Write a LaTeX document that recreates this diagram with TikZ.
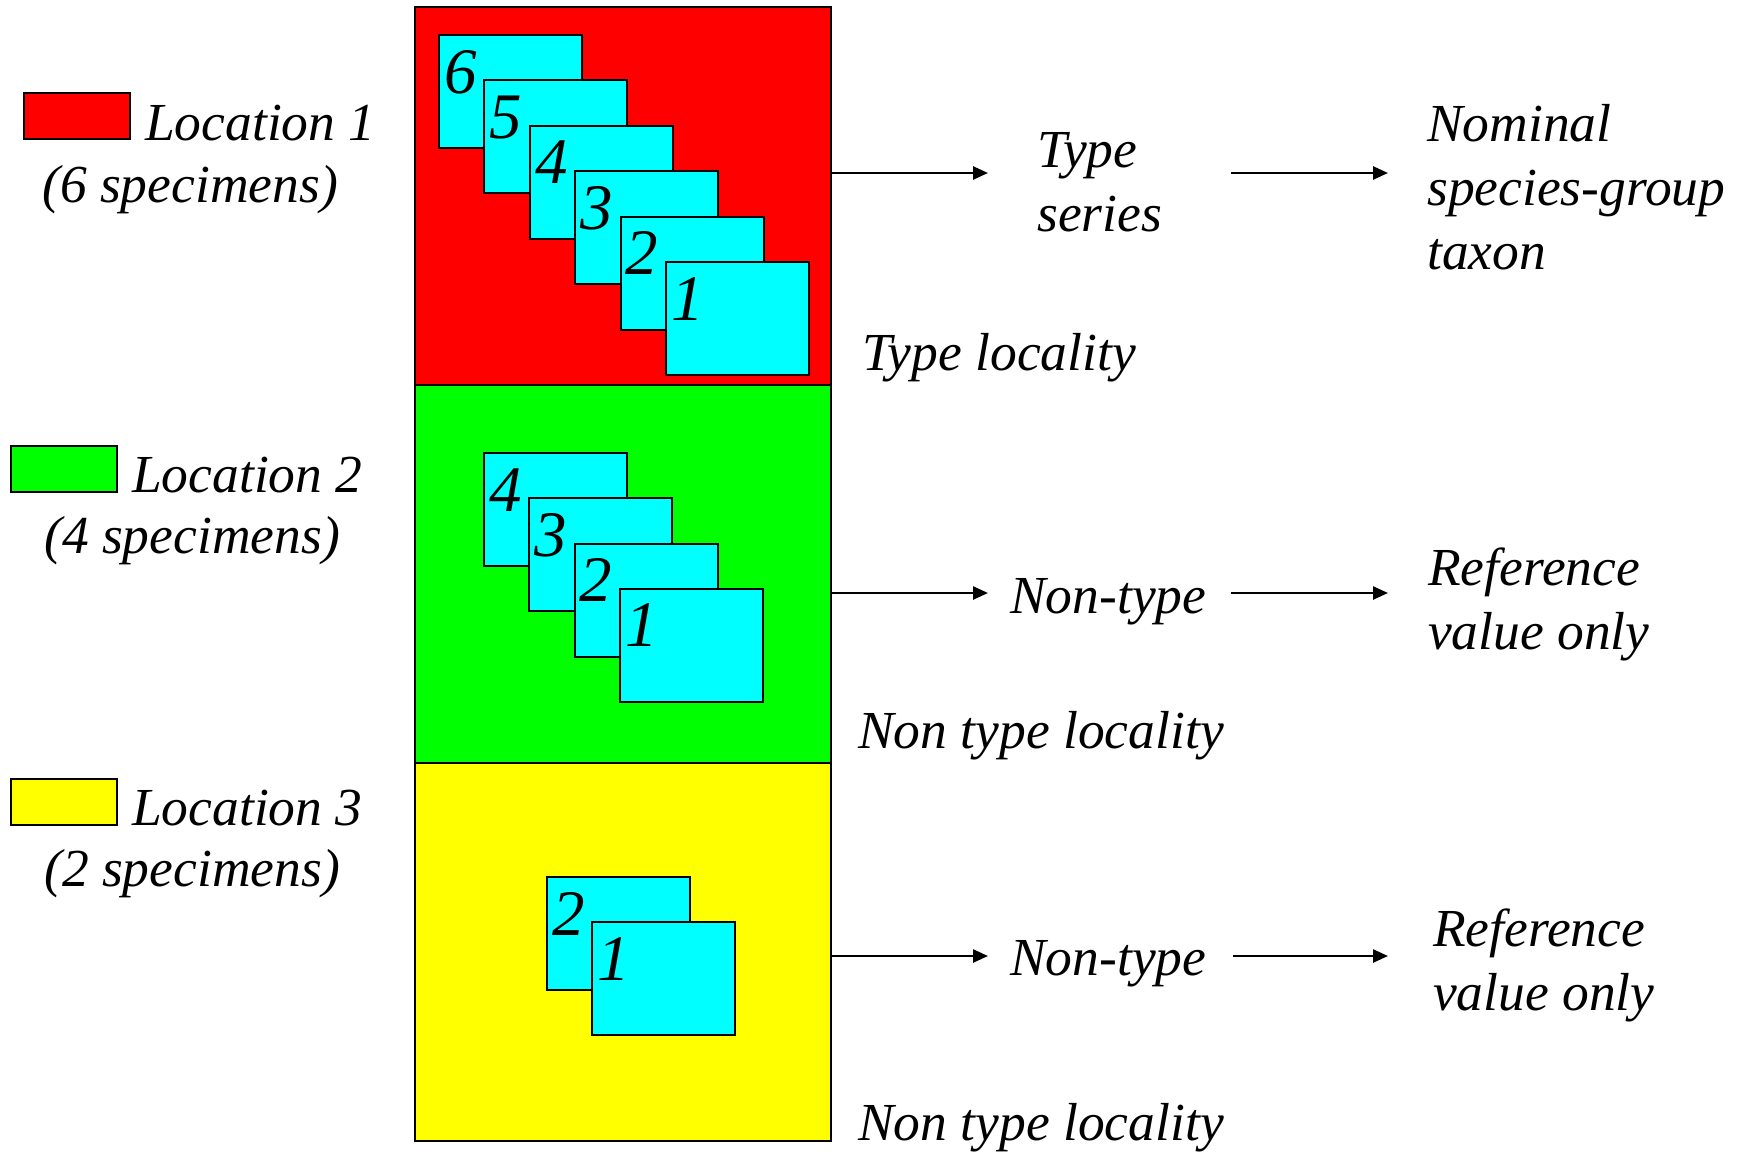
\documentclass[tikz,border=0pt]{standalone}
\usepackage{fontspec}
\setmainfont{Liberation Serif}
\usetikzlibrary{arrows.meta}
\definecolor{cRed}{RGB}{255,0,0}
\definecolor{cGreen}{RGB}{0,255,0}
\definecolor{cYellow}{RGB}{255,255,0}
\definecolor{cCyan}{RGB}{0,255,255}
\begin{document}
\begin{tikzpicture}[x=1pt,y=-1pt,
  sect/.style={draw=black, line width=2pt, anchor=north west, minimum width=416pt, minimum height=378pt, inner sep=0pt, outer sep=0pt},
  card/.style={draw=black, line width=2pt, fill=cCyan, anchor=north west, minimum width=143pt, minimum height=113pt, inner sep=0pt, outer sep=0pt},
  num/.style={anchor=base west, inner sep=0pt, font=\fontsize{65}{65}\selectfont\itshape},
  lbl/.style={anchor=base west, inner sep=0pt, font=\fontsize{53.5}{64}\selectfont\itshape},
  key/.style={draw=black, line width=2pt, anchor=north west, minimum width=106pt, minimum height=46pt, inner sep=0pt, outer sep=0pt},
  arr/.style={line width=2.5pt, -{Triangle[length=15pt,width=13pt]}}
]
\useasboundingbox[fill=white] (0,0) rectangle (1745,1151);

% sections
\node[sect, fill=cRed] (red) at (415,7) {};
\node[sect, fill=cGreen] (green) at (415,385) {};
\node[sect, fill=cYellow] (yellow) at (415,763) {};

% cards in red
\foreach \k in {6,5,4,3,2,1} {
  \pgfmathsetmacro\o{(6-\k)*45.4}
  \node[card] (r\k) at (439+\o, 35+\o) {};
  \node[num] (r\k n) at (444+\o, 93+\o) {\k};
}
% cards in green
\foreach \k in {4,3,2,1} {
  \pgfmathsetmacro\o{(4-\k)*45.3}
  \node[card] (g\k) at (484+\o, 453+\o) {};
  \node[num] (g\k n) at (489+\o, 511+\o) {\k};
}
% cards in yellow
\foreach \k in {2,1} {
  \pgfmathsetmacro\o{(2-\k)*45.3}
  \node[card] (y\k) at (547+\o, 877+\o) {};
  \node[num] (y\k n) at (552+\o, 935+\o) {\k};
}

% legend
\node[key, fill=cRed] (k1) at (24,93) {};
\node[lbl] (l1) at (145,140) {Location 1};
\node[lbl] (s1) at (42,202) {(6 specimens)};
\node[key, fill=cGreen] (k2) at (11,446) {};
\node[lbl] (l2) at (132,492) {Location 2};
\node[lbl] (s2) at (44,553) {(4 specimens)};
\node[key, fill=cYellow] (k3) at (11,779) {};
\node[lbl] (l3) at (132,825) {Location 3};
\node[lbl] (s3) at (44,886) {(2 specimens)};

% right labels
\node[lbl] (ts) at (1037,167) {\begin{tabular}[t]{@{}l@{}}Type\\series\end{tabular}};
\node[lbl] (nom) at (1427,141) {\begin{tabular}[t]{@{}l@{}}Nominal\\species-group\\taxon\end{tabular}};
\node[lbl] (tl) at (862,370) {Type locality};

\node[lbl] (nt2) at (1010,613) {Non-type};
\node[lbl] (rv2) at (1428,585) {\begin{tabular}[t]{@{}l@{}}Reference\\value only\end{tabular}};
\node[lbl] (ntl2) at (858,748) {Non type locality};

\node[lbl] (nt3) at (1010,975) {Non-type};
\node[lbl] (rv3) at (1433,946) {\begin{tabular}[t]{@{}l@{}}Reference\\value only\end{tabular}};
\node[lbl] (ntl3) at (858,1140) {Non type locality};

% arrows
\coordinate (a1) at (988,173);
\coordinate (b1s) at (1231,173);
\coordinate (b1e) at (1388,173);
\coordinate (a2) at (988,593);
\coordinate (b2s) at (1231,593);
\coordinate (b2e) at (1388,593);
\coordinate (a3) at (988,956);
\coordinate (b3s) at (1233,956);
\coordinate (b3e) at (1388,956);
\draw[arr] (red.east |- a1) -- (a1);
\draw[arr] (b1s) -- (b1e);
\draw[arr] (green.east |- a2) -- (a2);
\draw[arr] (b2s) -- (b2e);
\draw[arr] (yellow.east |- a3) -- (a3);
\draw[arr] (b3s) -- (b3e);
\end{tikzpicture}
\end{document}
